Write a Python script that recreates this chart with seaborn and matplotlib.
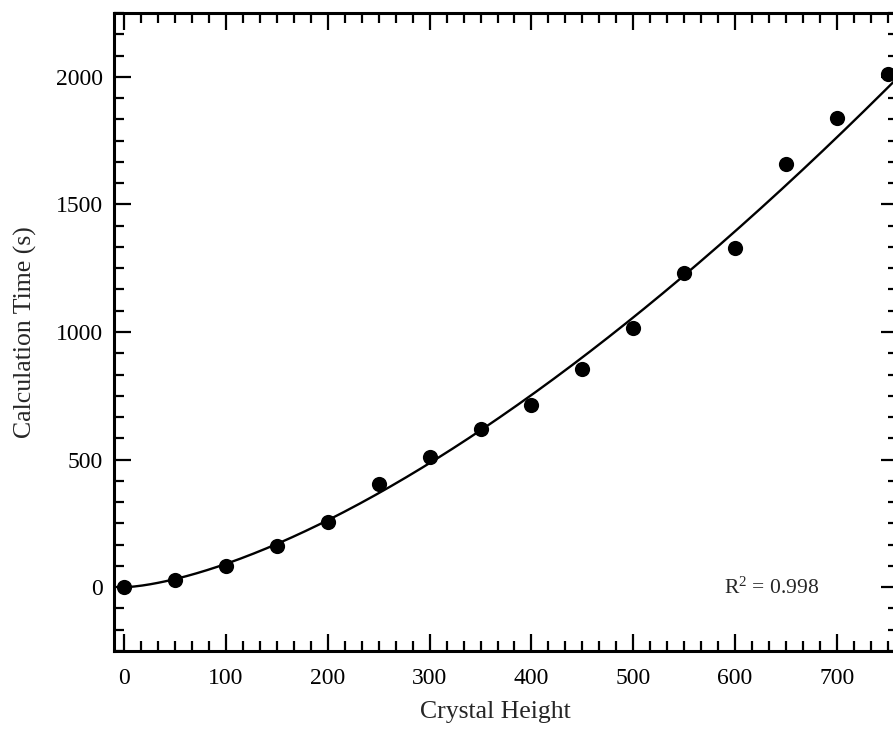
import numpy as np
import pandas as pd
import matplotlib
matplotlib.use("Agg")
import matplotlib.pyplot as plt
import seaborn as sns
from matplotlib.ticker import MultipleLocator

crystal_height = [0, 50, 100, 150, 200, 250, 300, 350, 400, 450, 500, 550, 600, 650, 700, 750]
calc_time = [0, 30, 85, 160, 255, 405, 510, 620, 715, 855, 1015, 1230, 1328, 1660, 1840, 2010]
x_ticks = [0, 100, 200, 300, 400, 500, 600, 700]
y_ticks = [0, 500, 1000, 1500, 2000]
# allometric fit y = a * x^b (parameters)
fit_a = 0.0835
fit_b = 1.52
r2_text = "R$^2$ = 0.998"

df = pd.DataFrame({"x": crystal_height, "y": calc_time})
fit_x = np.linspace(0, 760, 300)
fit_df = pd.DataFrame({"x": fit_x, "y": fit_a * fit_x ** fit_b})

sns.set_style("ticks")
plt.rcParams['font.family'] = ['Liberation Serif', 'DejaVu Serif']
plt.rcParams['mathtext.fontset'] = 'custom'
plt.rcParams['mathtext.rm'] = 'Liberation Serif'
plt.rcParams['mathtext.it'] = 'Liberation Serif:italic'

W, H = 893, 742
fig = plt.figure(figsize=(W / 100, H / 100), dpi=100)
left, right, top, bottom = 114, 898, 13, 651
ax = fig.add_axes([left / W, 1 - bottom / H, (right - left) / W, (bottom - top) / H])

sns.lineplot(data=fit_df, x="x", y="y", ax=ax, color="black", lw=1.7, zorder=2)
sns.scatterplot(data=df, x="x", y="y", ax=ax, s=120, color="black",
                edgecolor="black", linewidth=0, alpha=1, zorder=3)

ax.set_xlim(-10, 760)
ax.set_ylim(-250, 2250)
ax.set_xticks(x_ticks)
ax.set_yticks(y_ticks)
ax.xaxis.set_minor_locator(MultipleLocator(100 / 6))
ax.yaxis.set_minor_locator(MultipleLocator(500 / 6))
ax.tick_params(which="both", direction="in", top=True, right=True, width=1.6, colors="black",
               labelsize=17)
ax.tick_params(which="major", length=12)
ax.tick_params(which="minor", length=7)
ax.tick_params(axis="x", which="major", pad=12)
ax.tick_params(axis="y", which="major", pad=8)
for sp in ax.spines.values():
    sp.set_linewidth(2.2)
    sp.set_color("black")

ax.set_xlabel("")
ax.set_ylabel("")
fig.text(495 / W, 1 - 712 / H, "Crystal Height", ha="center", va="center", fontsize=18.5)
fig.text(25 / W, 1 - 332 / H, "Calculation Time (s)", ha="center", va="center",
         rotation=90, fontsize=18.5)
ax.text(724 / W, 1 - 588 / H, r2_text, transform=fig.transFigure,
        ha="left", va="center", fontsize=15.5)

fig.savefig("out.png", dpi=100)
